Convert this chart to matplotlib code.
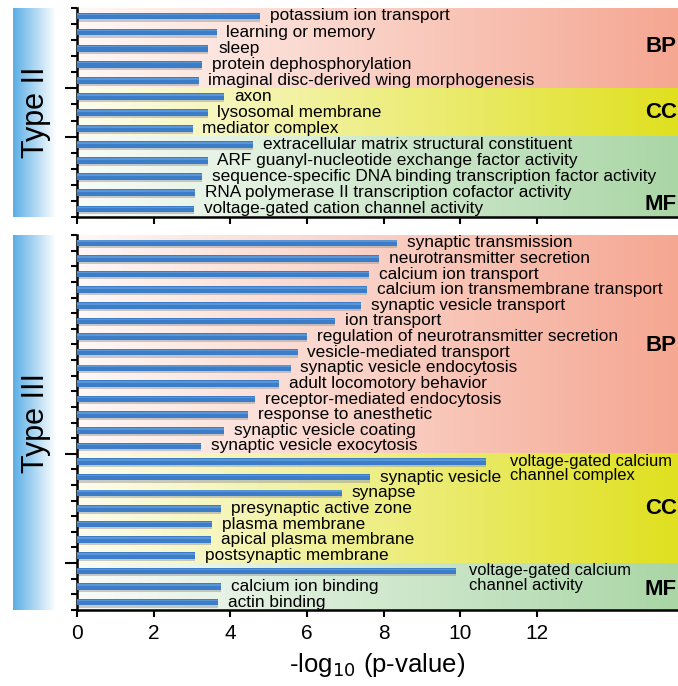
import numpy as np
import matplotlib.pyplot as plt
from matplotlib.colors import LinearSegmentedColormap

plt.rcParams['font.family'] = ['Liberation Sans', 'DejaVu Sans']

# Type II terms
t2_bp = ["potassium ion transport", "learning or memory", "sleep",
         "protein dephosphorylation", "imaginal disc-derived wing morphogenesis"]
t2_bp_val = [4.78, 3.65, 3.43, 3.27, 3.17]
t2_cc = ["axon", "lysosomal membrane", "mediator complex"]
t2_cc_val = [3.84, 3.41, 3.02]
t2_mf = ["extracellular matrix structural constituent",
         "ARF guanyl-nucleotide exchange factor activity",
         "sequence-specific DNA binding transcription factor activity",
         "RNA polymerase II transcription cofactor activity",
         "voltage-gated cation channel activity"]
t2_mf_val = [4.59, 3.41, 3.26, 3.08, 3.05]

# Type III terms
t3_bp = ["synaptic transmission", "neurotransmitter secretion", "calcium ion transport",
         "calcium ion transmembrane transport", "synaptic vesicle transport", "ion transport",
         "regulation of neurotransmitter secretion", "vesicle-mediated transport",
         "synaptic vesicle endocytosis", "adult locomotory behavior",
         "receptor-mediated endocytosis", "response to anesthetic",
         "synaptic vesicle coating", "synaptic vesicle exocytosis"]
t3_bp_val = [8.36, 7.88, 7.62, 7.57, 7.41, 6.74, 6.0, 5.76, 5.58, 5.28, 4.65, 4.47, 3.84, 3.24]
t3_cc = ["voltage-gated calcium\nchannel complex", "synaptic vesicle", "synapse",
         "presynaptic active zone", "plasma membrane", "apical plasma membrane",
         "postsynaptic membrane"]
t3_cc_val = [10.68, 7.65, 6.92, 3.76, 3.52, 3.50, 3.08]
t3_mf = ["voltage-gated calcium\nchannel activity", "calcium ion binding", "actin binding"]
t3_mf_val = [9.9, 3.76, 3.68]

xticks = [0, 2, 4, 6, 8, 10, 12]
XMAX = 15.68

band_cols = {"BP": "#f5a792", "CC": "#e0e020", "MF": "#aad6a6"}


def draw_panel(ax, groups, label_cfg, wrap_gap):
    names, vals = [], []
    for cat, n, v in groups:
        names += n
        vals += v
    n_bars = len(names)
    y = np.arange(n_bars)
    ax.set_xlim(0, XMAX)

    # gradient bands
    start = 0
    bounds = []
    for cat, n, v in groups:
        cmap = LinearSegmentedColormap.from_list(cat, ["#ffffff", band_cols[cat]])
        grad = np.linspace(0.08, 1, 256).reshape(1, -1)
        ax.imshow(grad, cmap=cmap, vmin=0, vmax=1, aspect="auto",
                  extent=[0, XMAX, start + len(n) - 0.5, start - 0.5], zorder=0)
        mid = start + (len(n) - 1) / 2
        bounds.append(start - 0.5)
        ax.text(XMAX - 0.03, mid + label_cfg.get(cat, 0), cat, fontsize=16,
                fontweight="bold", va="center", ha="right", zorder=5)
        start += len(n)
    bounds.append(n_bars - 0.5)
    ax.set_ylim(n_bars - 0.5, -0.5)

    # bars with a soft shadow
    ax.barh(y + 0.12, vals, height=0.45, color="#a0a0a0", alpha=0.55, zorder=2)
    ax.barh(y, vals, height=0.42, color="#3b7dc8", zorder=3)
    ax.barh(y - 0.1, vals, height=0.1, color="#5a95d6", zorder=3, linewidth=0)

    for yi, v, name in zip(y, vals, names):
        if "\n" in name:
            ax.text(v + wrap_gap.pop(0), yi - 0.5, name, fontsize=11.9, va="top",
                    ha="left", linespacing=0.95, zorder=4)
        else:
            ax.text(v + 0.25, yi, name, fontsize=12.4, va="center", ha="left", zorder=4)

    ax.set_yticks(bounds[1:-1])
    ax.set_yticklabels([])
    ax.set_yticks(np.arange(n_bars + 1) - 0.5, minor=True)
    ax.tick_params(axis="y", which="major", length=9, width=1.5, direction="out")
    ax.tick_params(axis="y", which="minor", length=4, width=1.5, direction="out")
    ax.set_xticks(xticks)
    ax.tick_params(axis="x", length=5, width=1.5, direction="out", labelsize=15, pad=5)
    for s in ["top", "right"]:
        ax.spines[s].set_visible(False)
    for s in ["left", "bottom"]:
        ax.spines[s].set_linewidth(1.8)


fig = plt.figure(figsize=(6.78, 6.86), dpi=100)

ax1 = fig.add_axes([0.1136, 0.6837, 0.8864, 0.3047])
draw_panel(ax1, [("BP", t2_bp, t2_bp_val), ("CC", t2_cc, t2_cc_val),
                 ("MF", t2_mf, t2_mf_val)], {"BP": -0.1, "MF": 1.7}, [])
ax1.set_xticklabels([])

ax2 = fig.add_axes([0.1136, 0.1108, 0.8864, 0.5466])
draw_panel(ax2, [("BP", t3_bp, t3_bp_val), ("CC", t3_cc, t3_cc_val),
                 ("MF", t3_mf, t3_mf_val)], {"BP": 0.1, "MF": 0.2}, [0.62, 0.32])
ax2.set_xlabel("-log$_{10}$ (p-value)", fontsize=18.5, labelpad=6)

# blue side strips with type labels
side_cmap = LinearSegmentedColormap.from_list("side", ["#5aaee6", "#ffffff"])
for rect, label in [([0.019, 0.6837, 0.062, 0.3047], "Type II"),
                    ([0.019, 0.1108, 0.062, 0.5466], "Type III")]:
    sax = fig.add_axes(rect)
    sax.imshow(np.linspace(0, 1, 256).reshape(1, -1), cmap=side_cmap,
               aspect="auto", extent=[0, 1, 0, 1])
    sax.set_axis_off()
    sax.text(0.55, 0.5, label, rotation=90, fontsize=22, ha="center", va="center")

fig.savefig("out.png", dpi=100)
